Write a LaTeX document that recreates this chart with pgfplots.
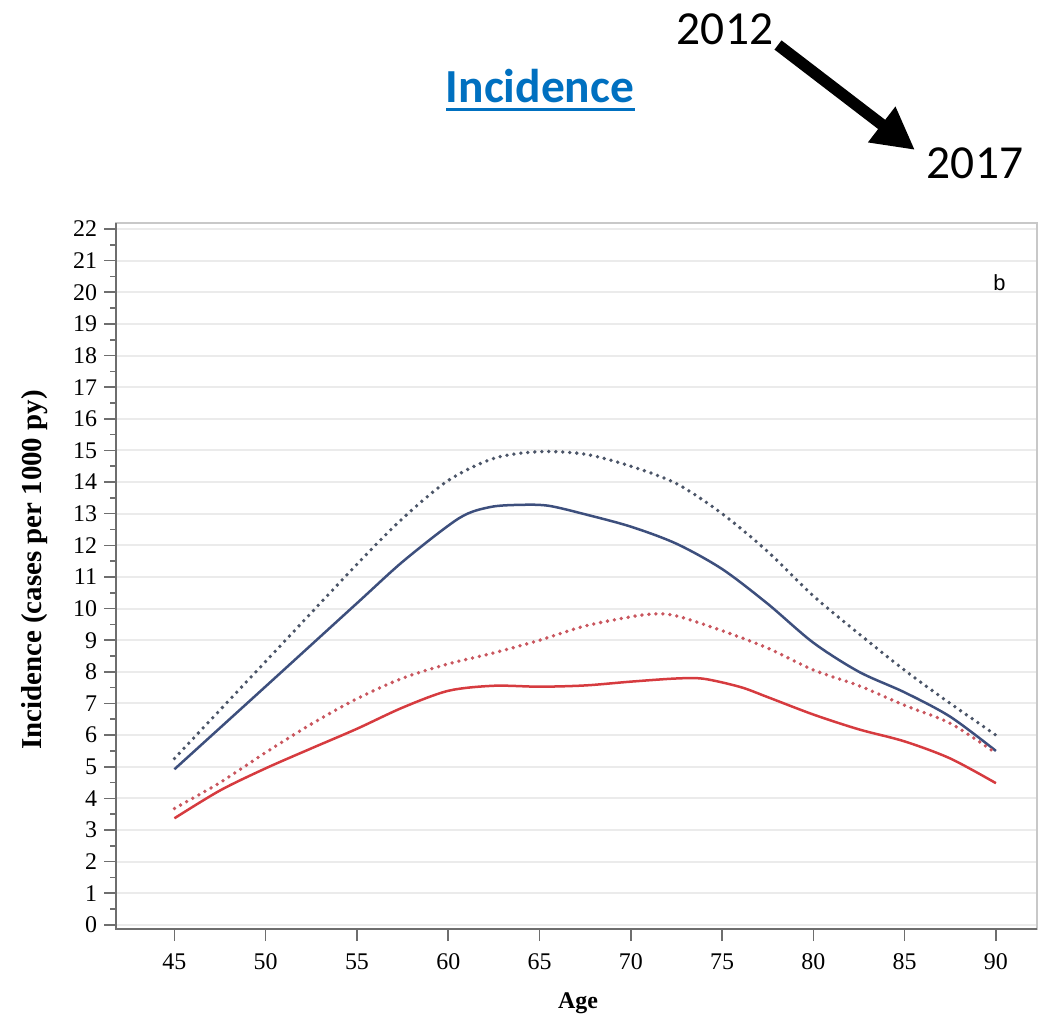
\documentclass[border=0pt]{standalone}
\usepackage{pgfplots}
\pgfplotsset{compat=1.18}
\usepackage{fontspec}
\setmainfont{Liberation Serif}
\newfontfamily\calibri{Carlito}
\newfontfamily\sansb{Liberation Sans}
\usetikzlibrary{arrows.meta}
\definecolor{bsolid}{HTML}{3D4F7D}
\definecolor{bdot}{HTML}{4B5568}
\definecolor{rsolid}{HTML}{D63B3F}
\definecolor{rdot}{HTML}{C9565E}
\definecolor{titleblue}{HTML}{0070C0}
\definecolor{gridc}{HTML}{EBEBEB}
\definecolor{framec}{HTML}{C8C8C8}
\definecolor{axisc}{HTML}{6E6E6E}
\begin{document}
\begin{tikzpicture}
\path[use as bounding box] (0,0) rectangle (528bp,510.5bp);
\begin{axis}[
  at={(58bp,46bp)}, anchor=south west,
  width=460.5bp, height=353bp, scale only axis,
  xmin=41.8, xmax=92.25, ymin=-0.13, ymax=22.19,
  xtick={45,50,...,90}, ytick={0,1,...,22},
  minor y tick num=1,
  xtick pos=bottom, ytick pos=left,
  tick align=outside,
  major tick length=6bp, minor tick length=3bp,
  tick style={draw=axisc, line width=0.8bp},
  ymajorgrids,
  major grid style={draw=gridc, line width=1bp},
  axis line style={draw=framec, line width=0.8bp},
  ticklabel style={font=\fontsize{12}{12}\selectfont},
  /pgf/number format/assume math mode=true,
  xticklabel style={yshift=-3bp},
  clip=false,
  dotted line/.style={line width=1.9bp, line cap=round, dash pattern=on 0pt off 3.5bp, smooth},
]
\draw[axisc, line width=1.2bp] (rel axis cs:0,1) -- (rel axis cs:0,0) -- (rel axis cs:1,0);
% blue dotted
\addplot[bdot, dotted line] coordinates {
(45,5.26)(50,8.33)(55,11.4)(57.5,12.85)(60,14.05)(62.5,14.75)(65,14.96)(67.5,14.88)(70,14.5)(72.5,13.95)(75,13.0)(77.5,11.8)(80,10.4)(82.5,9.2)(85,8.05)(87.5,7.0)(90,6.0)};
% blue solid
\addplot[bsolid, line width=1.25bp, smooth] coordinates {
(45,4.92)(50,7.54)(55,10.17)(57.6,11.53)(60.6,12.86)(62.3,13.21)(64,13.28)(65.5,13.25)(67.5,12.98)(70,12.59)(72.5,12.05)(75,11.25)(77.5,10.15)(80,8.92)(82.5,8.0)(85,7.35)(87.5,6.58)(90,5.5)};
% red dotted
\addplot[rdot, dotted line] coordinates {
(45,3.68)(47.5,4.5)(50,5.45)(52.5,6.35)(55,7.15)(57.5,7.8)(60,8.25)(62.5,8.6)(65,9.0)(67.5,9.45)(70,9.74)(71.3,9.83)(72.5,9.77)(75,9.3)(77.5,8.75)(80,8.06)(82.5,7.56)(85,6.94)(87.5,6.37)(90,5.43)};
% red solid
\addplot[rsolid, line width=1.25bp, smooth] coordinates {
(45,3.37)(47.5,4.25)(50,4.95)(52.5,5.58)(55,6.2)(57.5,6.87)(60,7.4)(62.5,7.56)(65,7.53)(67.5,7.57)(70,7.69)(72.5,7.79)(74,7.78)(76,7.52)(77.5,7.2)(80,6.65)(82.5,6.18)(85,5.8)(87.5,5.26)(90,4.48)};
\node[font=\sansb\fontsize{11}{11}\selectfont] at (axis cs:90.2,20.3) {b};
\end{axis}
% axis labels
\node[rotate=90, font=\bfseries\fontsize{14.5}{14.5}\selectfont] at (17.5bp,225.5bp) {Incidence (cases per 1000 py)};
\node[font=\bfseries\fontsize{12}{12}\selectfont] at (289bp,9bp) {Age};
% title and years
\node[anchor=base, inner sep=0, font=\calibri\bfseries\fontsize{23.8}{23.8}\selectfont, text=titleblue] at (270bp,459bp) {Incidence};
\draw[titleblue, line width=1.5bp] (223bp,455.5bp) -- (317.5bp,455.5bp);
\node[anchor=base, inner sep=0, font=\calibri\fontsize{23.8}{23.8}\selectfont] at (362.5bp,488bp) {2012};
\node[anchor=base, inner sep=0, font=\calibri\fontsize{23.8}{23.8}\selectfont] at (487.5bp,421bp) {2017};
\draw[line width=5.8bp, -{Triangle[length=21bp, width=21bp]}] (389bp,488bp) -- (457.5bp,435.5bp);
\end{tikzpicture}
\end{document}
